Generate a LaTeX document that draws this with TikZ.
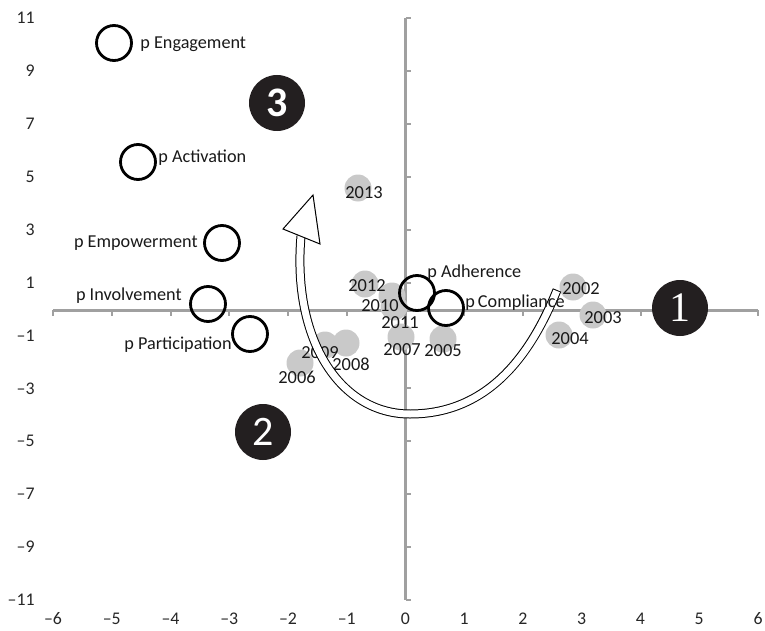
\documentclass[tikz,border=0pt]{standalone}
\usepackage{fontspec}
\setmainfont{Carlito}
\newfontfamily\serifone{Liberation Serif}
\definecolor{axisgray}{RGB}{160,160,160}
\definecolor{dotgray}{RGB}{201,201,201}
\definecolor{darkfill}{RGB}{35,31,32}
\tikzset{
  axisline/.style={draw=axisgray, line width=1.5pt},
  tickline/.style={draw=axisgray, line width=1pt},
  ticklabel/.style={font=\fontsize{8.9}{10}\selectfont, text=black!85, inner sep=0pt},
  yeardot/.style={circle, fill=dotgray, minimum size=13.5pt, inner sep=0pt},
  yearlabel/.style={font=\fontsize{9.2}{10}\selectfont, text=black!90, inner sep=0pt},
  opencirc/.style={circle, draw=black, line width=1.4pt, minimum size=17.5pt, inner sep=0pt},
  plabel/.style={font=\fontsize{9.1}{11}\selectfont, text=black!90, inner sep=0pt},
  bignum/.style={circle, fill=darkfill, minimum size=28pt, inner sep=0pt, text=white},
}
\begin{document}
\begin{tikzpicture}[x=0.5pt,y=-0.5pt]
\useasboundingbox (0,0) rectangle (765,631);
% axes
\coordinate (xl) at (53,310);
\coordinate (xr) at (758,310);
\coordinate (yt) at (405.5,18);
\coordinate (yb) at (405.5,600);
\draw[axisline] (xl) -- (xr);
\draw[axisline] (yt) -- (yb);
% x ticks and labels
\foreach \v in {-6,...,6}{
  \pgfmathsetmacro{\px}{405.5+58.75*\v}
  \draw[tickline] (\px,310) -- (\px,316);
  \node[ticklabel] (xt\v) at (\px,619) {\ifnum\v<0 \textendash\the\numexpr-\v\relax\else\v\fi};
}
% y ticks and labels
\foreach \v in {-11,-9,...,11}{
  \pgfmathsetmacro{\py}{309-26.45*\v}
  \draw[tickline] (405.5,\py) -- (411,\py);
  \node[ticklabel, anchor=east] (yt\v) at (35,\py) {\ifnum\v<0 \textendash\the\numexpr-\v\relax\else\v\fi};
}
% year dots
\node[yeardot] (d2013) at (358,188) {};
\node[yeardot] (d2012) at (365,284) {};
\node[yeardot] (d2011) at (394,307) {};
\node[yeardot] (d2010) at (392,296) {};
\node[yeardot] (d2007) at (401,337) {};
\node[yeardot] (d2005) at (443,339) {};
\node[yeardot] (d2008) at (346,343) {};
\node[yeardot] (d2009) at (325,345) {};
\node[yeardot] (d2006) at (300,363) {};
\node[yeardot] (d2002) at (573,287) {};
\node[yeardot] (d2003) at (593,315) {};
\node[yeardot] (d2004) at (559,335) {};
% year labels
\node[yearlabel] (l2013) at (364,193) {2013};
\node[yearlabel] (l2012) at (367,286) {2012};
\node[yearlabel] (l2010) at (380,306) {2010};
\node[yearlabel] (l2011) at (400,323) {2011};
\node[yearlabel] (l2007) at (402,350) {2007};
\node[yearlabel] (l2005) at (443,351) {2005};
\node[yearlabel] (l2009) at (320,353) {2009};
\node[yearlabel] (l2008) at (351,364) {2008};
\node[yearlabel] (l2006) at (297,377) {2006};
\node[yearlabel] (l2002) at (581,289) {2002};
\node[yearlabel] (l2003) at (603,318) {2003};
\node[yearlabel] (l2004) at (570,339) {2004};
% curved hollow arrow
\coordinate (as) at (557,290);
\coordinate (ab) at (410,414);
\coordinate (ae) at (301,236);
\draw[line width=4.5pt, black] (as) .. controls (532,352) and (490,414) .. (ab) .. controls (340,414) and (292,340) .. (ae);
\draw[line width=3.5pt, white, shorten <=0.5pt] (as) .. controls (532,352) and (490,414) .. (ab) .. controls (340,414) and (292,340) .. (ae);
\coordinate (h1) at (283,229);
\coordinate (h2) at (313,195);
\coordinate (h3) at (320,244);
\draw[fill=white, line width=0.5pt, line join=miter] (h1) -- (h2) -- (h3) -- cycle;
% open circles
\node[opencirc] (eng) at (114,43) {};
\node[opencirc] (act) at (138,162) {};
\node[opencirc] (emp) at (222,243) {};
\node[opencirc] (inv) at (208,304) {};
\node[opencirc] (par) at (250,334) {};
\node[opencirc] (adh) at (417,293) {};
\node[opencirc] (com) at (446,308) {};
% labels
\node[plabel, anchor=west] (leng) at (140,44) {p Engagement};
\node[plabel, anchor=west] (lact) at (158,158) {p Activation};
\node[plabel, anchor=east] (lemp) at (198,243) {p Empowerment};
\node[plabel, anchor=east] (linv) at (182,296) {p Involvement};
\node[plabel, anchor=east] (lpar) at (232,345) {p Participation};
\node[plabel, anchor=west] (ladh) at (427,273) {p Adherence};
\node[plabel, anchor=west] (lcom) at (465,303) {p\,Compliance};
% big numbers
\node[bignum, font=\fontsize{21}{24}\selectfont\bfseries] (n3) at (277,103) {3};
\node[bignum, font=\fontsize{21}{24}\selectfont] (n2) at (263,432) {2};
\node[bignum, font=\fontsize{21}{24}\selectfont\serifone] (n1) at (680,308) {1};
\end{tikzpicture}
\end{document}
